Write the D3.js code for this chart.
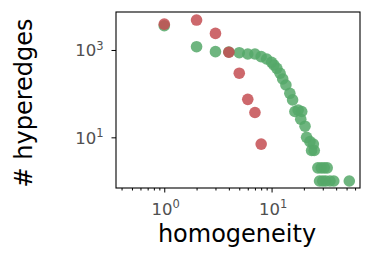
<!DOCTYPE html>
<html><head><meta charset="utf-8">
<script src="https://cdn.jsdelivr.net/npm/d3@7"></script>
<style>body{margin:0;background:#fff}svg{display:block}text{font-family:"DejaVu Sans",sans-serif}</style>
</head><body><svg id="c" width="371" height="260"></svg>
<script>
// Data
const redH   = [1, 2, 3, 4, 5, 6, 7, 8];
const redN   = [3900, 4850, 2400, 890, 294, 74, 37, 7];
const greenH = [1, 2, 3, 4, 5, 6, 7, 8, 9, 10, 10.5, 11.2, 12, 12.7, 13.6, 14.8, 15.7, 16.5, 17.7, 19.1, 18.7, 20.5, 21.2, 22.8, 24.5, 23.6, 25,
                27, 29, 31, 33, 28, 30, 32, 35, 38, 53];
const greenN = [3600, 1190, 915, 900, 867, 810, 810, 703, 622, 524, 454, 381, 293, 217, 158, 102, 72, 39, 42, 39, 26, 18, 10, 8, 7, 5, 5,
                2, 2, 2, 2, 1, 1, 1, 1, 1, 1];
const xMajor = [1, 10];
const xMajorExp = ["0", "1"];
const yMajor = [10, 1000];
const yMajorExp = ["1", "3"];
const xMinor = [0.4,0.5,0.6,0.7,0.8,0.9,2,3,4,5,6,7,8,9,20,30,40,50,60];

const svg = d3.select("#c");
const L = 116, R = 360, T = 12, B = 188;
const x = d3.scaleLog().domain([0.355, 66.7]).range([L, R]);
const y = d3.scaleLog().domain([0.692, 7407]).range([B, T]);

// axes
const gx = svg.append("g").attr("transform", `translate(0,${B})`)
  .call(d3.axisBottom(x).tickValues(xMajor).tickFormat("").tickSizeOuter(0).tickSize(4.5));
const gxm = svg.append("g").attr("transform", `translate(0,${B})`)
  .call(d3.axisBottom(x).tickValues(xMinor).tickFormat("").tickSizeOuter(0).tickSize(2.5));
const gy = svg.append("g").attr("transform", `translate(${L},0)`)
  .call(d3.axisLeft(y).tickValues(yMajor).tickFormat("").tickSizeOuter(0).tickSize(4.5));
[gx, gxm, gy].forEach(g => { g.select(".domain").remove(); g.selectAll("line").attr("stroke", "#000").attr("stroke-width", 1); });

// tick labels with superscripts
xMajor.forEach((v, i) => {
  const t = svg.append("text").attr("x", x(v) + 1.5).attr("y", 215).attr("text-anchor", "middle")
    .attr("fill", "#505050").attr("font-size", 16.5);
  t.append("tspan").text("10");
  t.append("tspan").attr("dy", -6.7).attr("font-size", 11.5).text(xMajorExp[i]);
});
yMajor.forEach((v, i) => {
  const t = svg.append("text").attr("x", 103.5).attr("y", y(v) + 6.5).attr("text-anchor", "end")
    .attr("fill", "#505050").attr("font-size", 16.5);
  t.append("tspan").text("10");
  t.append("tspan").attr("dy", -6.7).attr("font-size", 11.5).text(yMajorExp[i]);
});

// frame
svg.append("rect").attr("x", L).attr("y", T).attr("width", R - L).attr("height", B - T)
  .attr("fill", "none").attr("stroke", "#000").attr("stroke-width", 1.1);

// points
const green = greenH.map((h, i) => ({h, n: greenN[i]}));
const red = redH.map((h, i) => ({h, n: redN[i]}));
svg.append("g").selectAll("circle").data(green).join("circle")
  .attr("cx", d => x(d.h)).attr("cy", d => y(d.n)).attr("r", 5.8)
  .attr("fill", "#55a868").attr("fill-opacity", 0.85);
svg.append("g").selectAll("circle").data(red).join("circle")
  .attr("cx", d => x(d.h)).attr("cy", d => y(d.n)).attr("r", 5.8)
  .attr("fill", "#c44e52").attr("fill-opacity", 0.85);

// axis titles
svg.append("text").attr("x", 237).attr("y", 242).attr("text-anchor", "middle")
  .attr("font-size", 24).attr("fill", "#000").text("homogeneity");
svg.append("text").attr("transform", `translate(32,103) rotate(-90)`).attr("text-anchor", "middle")
  .attr("font-size", 24).attr("fill", "#000").text("# hyperedges");
</script></body></html>
